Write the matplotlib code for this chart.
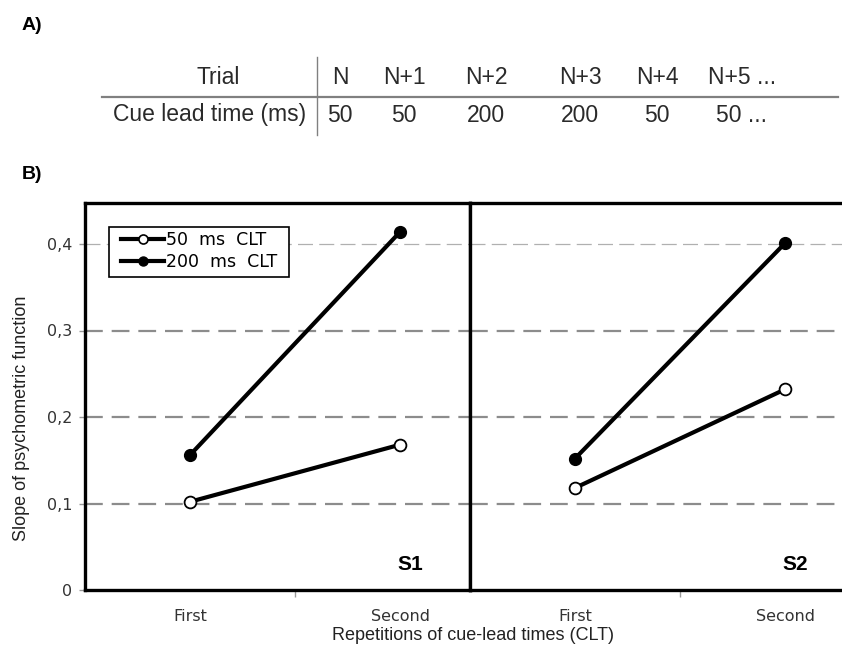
import matplotlib
matplotlib.use("Agg")
import matplotlib.pyplot as plt
from matplotlib.lines import Line2D
from matplotlib.patches import Rectangle
from matplotlib.ticker import FixedLocator, FuncFormatter

# ---------------- data ----------------
trial_labels = ["N", "N+1", "N+2", "N+3", "N+4", "N+5 ..."]
clt_values = ["50", "50", "200", "200", "50", "50 ..."]

repetitions = ["First", "Second"]
s1_50 = [0.102, 0.168]
s1_200 = [0.156, 0.414]
s2_50 = [0.118, 0.232]
s2_200 = [0.152, 0.401]
subjects = ["S1", "S2"]
series_labels = ["50  ms  CLT", "200  ms  CLT"]
yticks = [0, 0.1, 0.2, 0.3, 0.4]

# ---------------- figure ----------------
W, H = 842, 645
fig = plt.figure(figsize=(W / 100, H / 100), dpi=100)
fig.patch.set_facecolor("white")

def fx(px):
    return px / W

def fy(py):
    return 1 - py / H

narrow = ["Liberation Sans Narrow", "Liberation Sans", "DejaVu Sans"]
sans = ["Liberation Sans", "DejaVu Sans"]
verd = ["DejaVu Sans"]

# ---- panel labels ----
fig.text(fx(22), fy(25), "A)", fontsize=14, fontweight="bold", family=sans,
         ha="left", va="center")
fig.text(fx(22), fy(174), "B)", fontsize=14, fontweight="bold", family=sans,
         ha="left", va="center")

# ---- table ----
tcol = "#2a2a2a"
col_x = [340, 404, 486, 580, 657, 742]
tfs = 16.5
fig.text(fx(240), fy(77), "Trial", fontsize=tfs, family=narrow, color=tcol,
         ha="right", va="center")
fig.text(fx(306), fy(115), "Cue lead time (ms)", fontsize=tfs, family=narrow,
         color=tcol, ha="right", va="center")
for x, lab, val in zip(col_x, trial_labels, clt_values):
    fig.text(fx(x), fy(77), lab, fontsize=tfs, family=narrow, color=tcol,
             ha="center", va="center")
    fig.text(fx(x), fy(115), val, fontsize=tfs, family=narrow, color=tcol,
             ha="center", va="center")
fig.add_artist(Line2D([fx(102), fx(838)], [fy(97), fy(97)], color="#808080",
                      lw=1.6, transform=fig.transFigure))
fig.add_artist(Line2D([fx(317), fx(317)], [fy(57), fy(135)], color="#808080",
                      lw=1.0, transform=fig.transFigure))

# ---- panel B axes ----
ax_bottom, ax_top = 590, 202.5
ymax = (ax_bottom - ax_top) / 865.0
axL = fig.add_axes([fx(85), fy(ax_bottom), fx(385), (ax_bottom - ax_top) / H])
axR = fig.add_axes([fx(470), fy(ax_bottom), fx(385), (ax_bottom - ax_top) / H])

xs = list(range(len(repetitions)))
for ax, d50, d200, subj in [(axL, s1_50, s1_200, subjects[0]),
                            (axR, s2_50, s2_200, subjects[1])]:
    ax.set_xlim(-0.5, 1.333)
    ax.set_ylim(0, ymax)
    for yv in yticks[1:]:
        if yv >= 0.35:
            ax.axhline(yv, color="#b0b0b0", lw=0.9, dashes=(12, 5), zorder=1)
        else:
            ax.axhline(yv, color="#8c8c8c", lw=1.6, dashes=(8, 4), zorder=1)
    ax.plot(xs, d50, color="black", lw=3, marker="o", ms=8.5,
            mfc="white", mec="black", mew=1.3, zorder=3, label=series_labels[0])
    ax.plot(xs, d200, color="black", lw=3, marker="o", ms=8.5,
            mfc="black", mec="black", zorder=4, label=series_labels[1])
    ax.text(1.048, 0.029, subj, fontsize=15, fontweight="bold", family=sans,
            ha="center", va="center")
    for s in ax.spines.values():
        s.set_linewidth(2.4)
        s.set_color("black")
    ax.set_xticks(xs)
    ax.set_xticklabels(repetitions, family=verd, fontsize=11.5, color="#333333")
    ax.xaxis.set_minor_locator(FixedLocator([0.5]))
    ax.tick_params(axis="x", which="major", length=0, pad=14)
    ax.tick_params(axis="x", which="minor", length=5, width=1, color="#999999")

axL.set_yticks(yticks)
axL.yaxis.set_major_formatter(FuncFormatter(
    lambda v, p: "0" if v == 0 else ("%.1f" % v).replace(".", ",")))
axL.tick_params(axis="y", length=4, width=1, color="#999999", pad=5,
                labelsize=11.5, labelcolor="#333333")
for t in axL.get_yticklabels():
    t.set_family(verd)
axR.set_yticks([])
axR.spines["right"].set_visible(False)

# legend (frame drawn separately)
fig.add_artist(Rectangle((fx(109), fy(277)), fx(180), (277 - 227) / H,
                         transform=fig.transFigure, facecolor="white",
                         edgecolor="black", lw=1.2, zorder=5))
h = [Line2D([], [], color="black", lw=3, marker="o", ms=6.5, mfc="white",
            mec="black", mew=1.2),
     Line2D([], [], color="black", lw=3, marker="o", ms=6.5, mfc="black",
            mec="black")]
leg = fig.legend(h, series_labels, loc="upper left",
                 bbox_to_anchor=(fx(121), fy(231)),
                 bbox_transform=fig.transFigure, frameon=False,
                 handlelength=2.5, handletextpad=0.1, borderpad=0,
                 borderaxespad=0, labelspacing=0.22,
                 prop={"family": verd, "size": 12.5})
leg.set_zorder(6)

# axis titles
fig.text(fx(22), fy(418), "Slope of psychometric function", rotation=90,
         fontsize=13, family=sans, color="#222222", ha="center", va="center")
fig.text(fx(473), fy(636), "Repetitions of cue-lead times (CLT)",
         fontsize=13, family=narrow, color="#222222", ha="center", va="center")

fig.savefig("out.png", dpi=100)
